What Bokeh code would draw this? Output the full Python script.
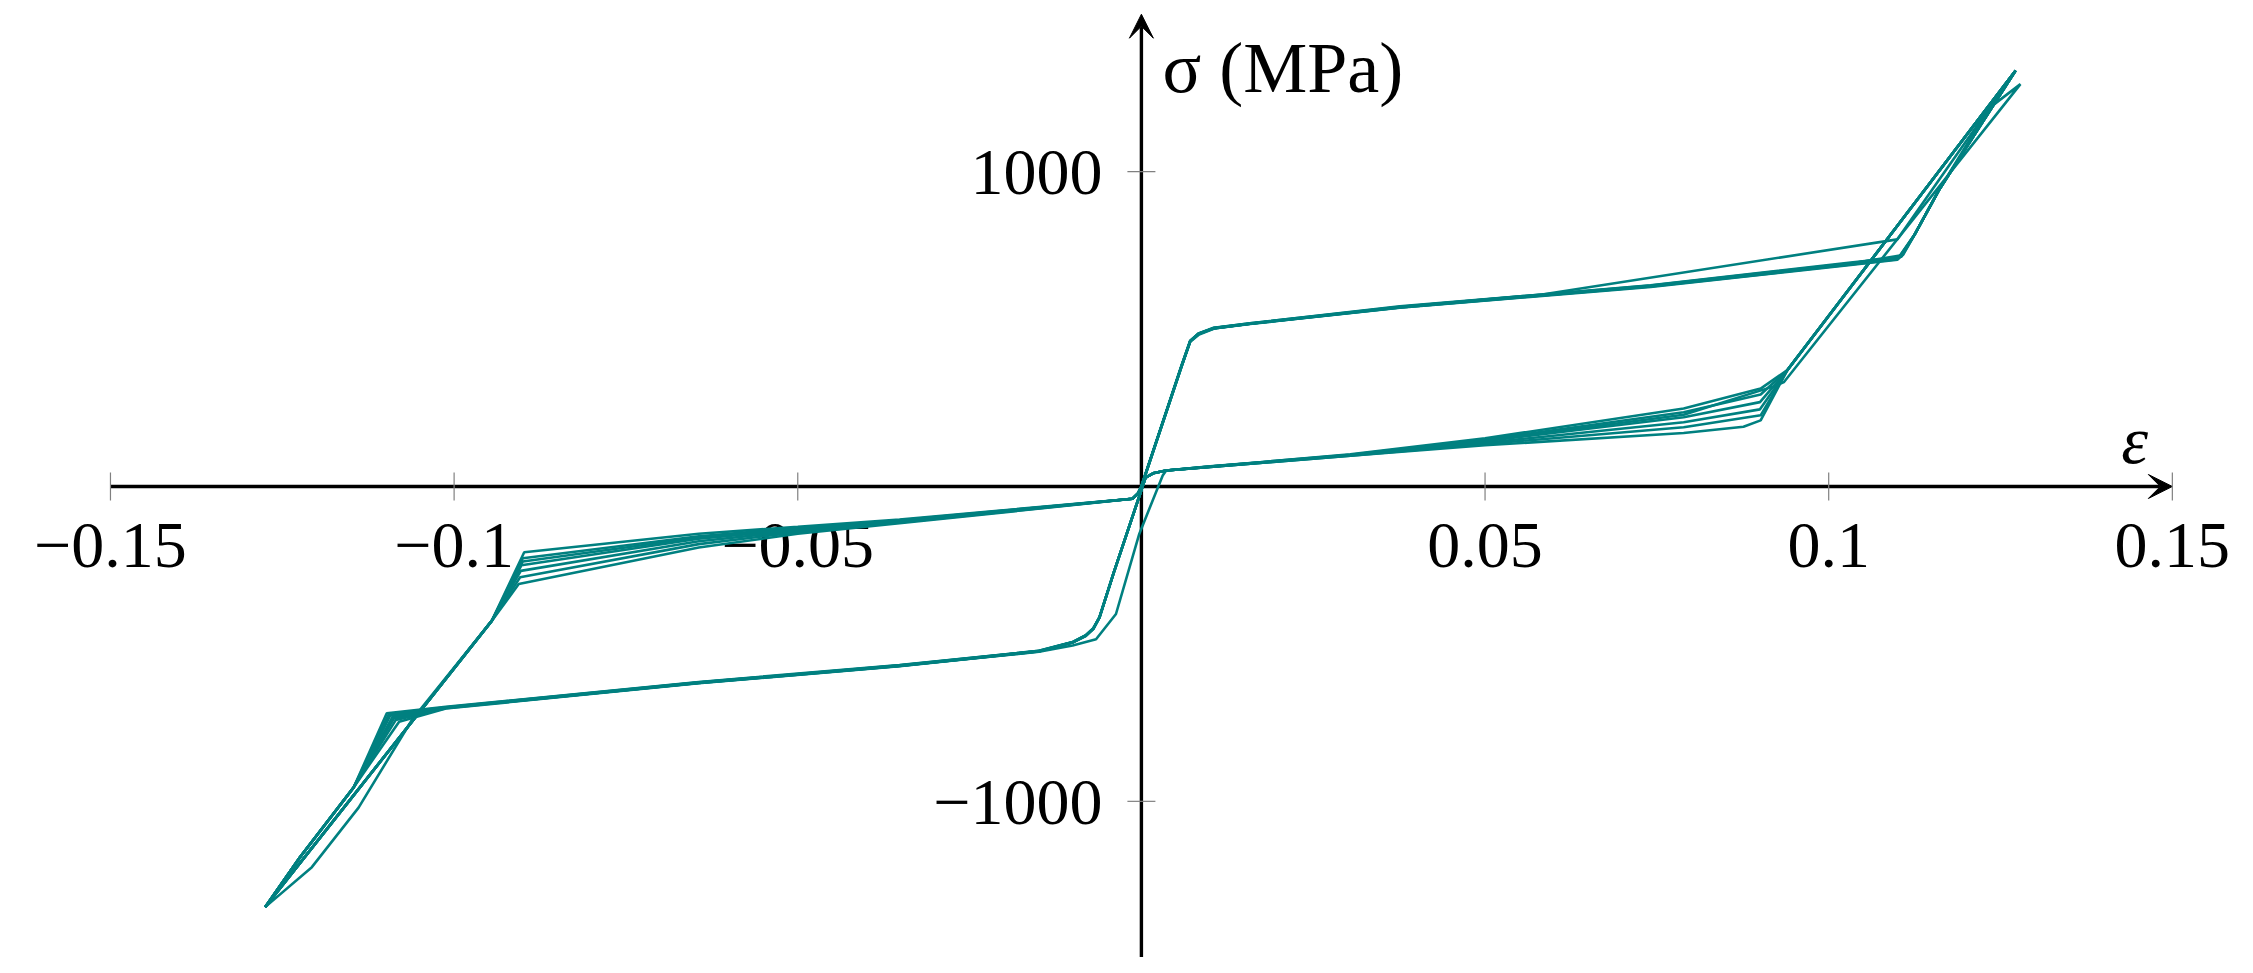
from bokeh.plotting import figure
from bokeh.models import Range1d, ColumnDataSource, Arrow, VeeHead
from bokeh.core.properties import value
from bokeh.embed import file_html
from bokeh.resources import INLINE

# ---------------- data (strain, stress in MPa) ----------------
c1_eps = [0.0, 0.0058, 0.0071, 0.0083, 0.0105, 0.0158, 0.0376, 0.0583, 0.1100, 0.1272,
          0.0940, 0.0901, 0.0789, 0.0500, 0.0304, 0.0100, 0.0036, 0.0017, 0.0006,
          -0.0040, -0.0061, -0.0070, -0.0081, -0.0100, -0.0149, -0.0352, -0.0644, -0.1012, -0.1095, -0.1146, -0.1224, -0.1275,
          -0.0945, -0.0898, -0.0644, -0.0500, -0.0352, -0.0013, -0.0005, 0.0000]
c1_sig = [0, 380, 462, 485, 503, 517, 570, 610, 785, 1321,
          370, 311, 248, 153, 102, 63, 51, 42, 28,
          -272, -416, -450, -472, -494, -522, -568, -622, -701, -723, -955, -1177, -1336,
          -426, -209, -150, -128, -105, -39, -22, 0]

c2_eps = [0.0, 0.0058, 0.0071, 0.0084, 0.0106, 0.0158, 0.0376, 0.0741, 0.1032, 0.1102, 0.1125, 0.1160, 0.1272,
          0.0940, 0.0901, 0.0789, 0.0500, 0.0304, 0.0100, 0.0036, 0.0017, 0.0006,
          -0.0040, -0.0061, -0.0070, -0.0081, -0.0100, -0.0149, -0.0352, -0.0644, -0.1012, -0.1090, -0.1146, -0.1224, -0.1275,
          -0.0945, -0.0900, -0.0644, -0.0500, -0.0352, -0.0013, -0.0005, 0.0000]
c2_sig = [0, 378, 460, 483, 502, 516, 569, 636, 706, 724, 800, 940, 1321,
          370, 292, 236, 149, 101, 64, 51, 42, 28,
          -272, -416, -452, -474, -495, -523, -570, -624, -703, -733, -955, -1177, -1336,
          -426, -228, -158, -132, -107, -39, -22, 0]

c3_eps = [0.0, 0.0058, 0.0071, 0.0083, 0.0105, 0.0158, 0.0376, 0.0741, 0.1032, 0.1106, 0.1125, 0.1160, 0.1233, 0.1279,
          0.0935, 0.0920, 0.0789, 0.0500, 0.0304, 0.0100, 0.0036, 0.0031, -0.0003, -0.0037, -0.0066, -0.0100,
          -0.0149, -0.0352, -0.0644, -0.1012, -0.1085, -0.1146, -0.1224, -0.1275,
          -0.1207, -0.1139, -0.1061, -0.0945, -0.0902, -0.0644, -0.0500, -0.0352, -0.0013, -0.0005, 0.0000]
c3_sig = [0, 382, 463, 486, 504, 518, 571, 638, 709, 730, 800, 940, 1201, 1278,
          332, 318, 228, 146, 100, 63, 51, 35, -150, -405, -485, -505,
          -525, -569, -623, -704, -742, -955, -1177, -1336,
          -1209, -1020, -740, -426, -250, -166, -137, -110, -39, -22, 0]

c4_eps = [0.0, 0.0058, 0.0071, 0.0083, 0.0105, 0.0158, 0.0376, 0.0741, 0.1032, 0.1100, 0.1125, 0.1160, 0.1272,
          0.0940, 0.0900, 0.0789, 0.0500, 0.0304, 0.0100, 0.0036, 0.0017, 0.0006,
          -0.0040, -0.0061, -0.0070, -0.0081, -0.0100, -0.0149, -0.0352, -0.0644, -0.1012, -0.1098, -0.1146, -0.1224, -0.1275,
          -0.0945, -0.0903, -0.0644, -0.0500, -0.0352, -0.0013, -0.0005, 0.0000]
c4_sig = [0, 379, 461, 484, 502, 517, 568, 634, 704, 720, 800, 940, 1321,
          370, 268, 220, 144, 100, 63, 51, 42, 28,
          -272, -416, -451, -473, -494, -522, -567, -621, -700, -720, -955, -1177, -1336,
          -426, -268, -174, -141, -112, -39, -22, 0]

c5_eps = [0.0, 0.0058, 0.0071, 0.0083, 0.0105, 0.0158, 0.0376, 0.0741, 0.1032, 0.1104, 0.1125, 0.1160, 0.1272,
          0.0940, 0.0900, 0.0789, 0.0500, 0.0304, 0.0100, 0.0036, 0.0017, 0.0006,
          -0.0040, -0.0061, -0.0070, -0.0081, -0.0100, -0.0149, -0.0352, -0.0644, -0.1012, -0.1080, -0.1146, -0.1224, -0.1275,
          -0.0945, -0.0904, -0.0644, -0.0500, -0.0352, -0.0013, -0.0005, 0.0000]
c5_sig = [0, 381, 462, 485, 503, 518, 572, 639, 711, 728, 800, 940, 1321,
          370, 245, 204, 139, 99, 62, 51, 42, 28,
          -272, -416, -453, -475, -496, -524, -571, -625, -705, -747, -955, -1177, -1336,
          -426, -288, -183, -145, -114, -39, -22, 0]

c6_eps = [0.0, 0.0058, 0.0071, 0.0083, 0.0105, 0.0158, 0.0376, 0.0741, 0.1032, 0.1108, 0.1125, 0.1160, 0.1272,
          0.0940, 0.0901, 0.0789, 0.0500, 0.0304, 0.0100, 0.0036, 0.0017, 0.0006,
          -0.0040, -0.0061, -0.0070, -0.0081, -0.0100, -0.0149, -0.0352, -0.0644, -0.1012, -0.1093, -0.1146, -0.1224, -0.1275,
          -0.0945, -0.0906, -0.0644, -0.0500, -0.0352, -0.0013, -0.0005, 0.0000]
c6_sig = [0, 380, 461, 484, 502, 517, 570, 637, 708, 735, 800, 940, 1321,
          370, 226, 188, 135, 98, 62, 51, 42, 28,
          -272, -416, -451, -473, -495, -523, -569, -623, -702, -728, -955, -1177, -1336,
          -426, -310, -194, -150, -117, -39, -22, 0]

c7_eps = [0.0, 0.0058, 0.0071, 0.0083, 0.0105, 0.0158, 0.0376, 0.0741, 0.1032, 0.1100, 0.1125, 0.1160, 0.1272,
          0.0940, 0.0901, 0.0876, 0.0789, 0.0500, 0.0304, 0.0100, 0.0036, 0.0017, 0.0006,
          -0.0040, -0.0061, -0.0070, -0.0081, -0.0100, -0.0149, -0.0352, -0.0644, -0.1012, -0.1088, -0.1146, -0.1224, -0.1275,
          -0.0945, -0.0900, -0.0644, -0.0500, -0.0352, -0.0013, -0.0005, 0.0000]
c7_sig = [0, 379, 461, 485, 503, 517, 569, 635, 705, 722, 800, 940, 1321,
          370, 210, 190, 170, 131, 98, 62, 51, 42, 28,
          -272, -416, -452, -474, -495, -523, -570, -624, -703, -738, -955, -1177, -1336,
          -426, -238, -162, -134, -108, -39, -22, 0]

x_ticks = [-0.15, -0.1, -0.05, 0.05, 0.1, 0.15]
x_tick_labels = ["\u22120.15", "\u22120.1", "\u22120.05", "0.05", "0.1", "0.15"]
y_ticks = [1000, -1000]
y_tick_labels = ["1000", "\u22121000"]

# ---------------- figure ----------------
FONT = "Liberation Serif"
TEAL = "#008080"

p = figure(width=2237, height=957,
           x_range=Range1d(-0.16600, 0.15948), y_range=Range1d(-1496.0, 1543.6),
           output_backend="svg", toolbar_location=None,
           x_axis_type=None, y_axis_type=None, min_border=0,
           outline_line_color=None, background_fill_color="white", border_fill_color="white")

# axes with arrow heads
p.add_layout(Arrow(end=VeeHead(size=24, fill_color="black", line_color="black", line_width=1),
                   x_start=x_ticks[0], y_start=0, x_end=x_ticks[-1], y_end=0,
                   line_color="black", line_width=3.4, level="underlay"))
p.add_layout(Arrow(end=VeeHead(size=24, fill_color="black", line_color="black", line_width=1),
                   x_start=0, y_start=-1500, x_end=0, y_end=1500,
                   line_color="black", line_width=3.4, level="underlay"))

# tick marks
p.scatter(x=x_ticks, y=[0] * len(x_ticks), marker="dash", size=28, angle=1.5707963,
          line_color="#808080", line_width=1.2)
p.scatter(x=[0] * len(y_ticks), y=y_ticks, marker="dash", size=28, angle=0,
          line_color="#808080", line_width=1.2)

# tick labels
p.text(x=x_ticks, y=[0] * len(x_ticks), text=x_tick_labels, text_align="center",
       text_baseline="middle", y_offset=59, text_font=value(FONT),
       text_font_size=value("66px"), text_color="black")
p.text(x=[0] * len(y_ticks), y=y_ticks, text=y_tick_labels, text_align="right",
       text_baseline="middle", x_offset=-39, y_offset=1, text_font=value(FONT),
       text_font_size=value("66px"), text_color="black")

# axis labels
p.text(x=[0.1445], y=[0], text=["\u03b5"], text_align="center", text_baseline="middle",
       y_offset=-46, text_font=value(FONT), text_font_style="italic",
       text_font_size=value("68px"), text_color="black")
p.text(x=[0], y=[1328], text=["\u03c3 (MPa)"], text_align="left", text_baseline="middle",
       x_offset=21, text_font=value(FONT), text_font_size=value("72px"), text_color="black")

# data curves
src = ColumnDataSource(dict(
    xs=[c1_eps, c2_eps, c3_eps, c4_eps, c5_eps, c6_eps, c7_eps],
    ys=[c1_sig, c2_sig, c3_sig, c4_sig, c5_sig, c6_sig, c7_sig],
))
p.multi_line(xs="xs", ys="ys", source=src, line_color=TEAL, line_width=2.6)

open("out.html", "w").write(file_html(p, INLINE))
